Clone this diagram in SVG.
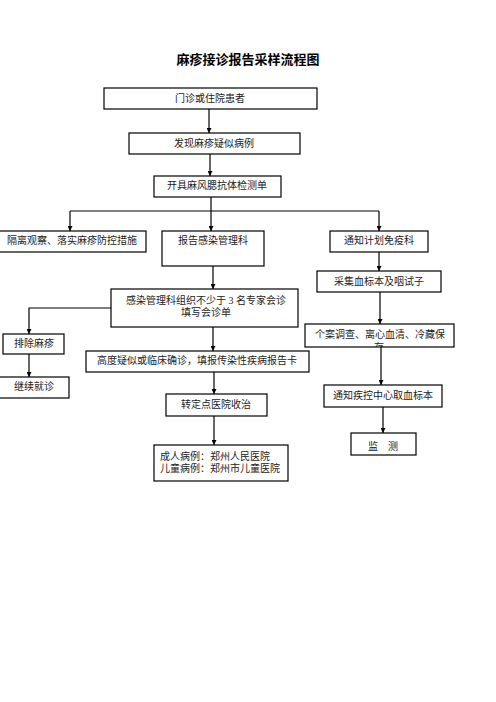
<svg xmlns="http://www.w3.org/2000/svg" width="496" height="702" viewBox="0 0 496 702">
<style>
.b{fill:#fff;stroke:#000;stroke-width:1.2}
.t{font-family:"Liberation Serif","Noto Sans CJK SC",serif;font-size:10px;fill:#222;text-anchor:middle}
.l{text-anchor:start}
.c{fill:none;stroke:#000;stroke-width:1.2}
.ttl{font-family:"Liberation Serif","Noto Sans CJK SC",serif;font-size:13px;font-weight:bold;fill:#000;text-anchor:middle}
</style>
<defs>
<marker id="a" viewBox="0 0 6 6" refX="6" refY="3" markerWidth="5" markerHeight="5" orient="auto" markerUnits="userSpaceOnUse">
<path d="M0,0 L6,3 L0,6 Z" fill="#000"/>
</marker>
<clipPath id="cp"><rect x="305" y="324" width="149" height="23"/></clipPath>
</defs>
<rect width="496" height="702" fill="#fff"/>
<text class="ttl" x="248" y="64">麻疹接诊报告采样流程图</text>
<g id="connectors">
<line class="c" x1="209" y1="109" x2="209" y2="133" marker-end="url(#a)"/>
<line class="c" x1="210" y1="154" x2="210" y2="176" marker-end="url(#a)"/>
<polyline class="c" points="211,197 211,211"/>
<polyline class="c" points="70,211 379,211"/>
<line class="c" x1="70" y1="211" x2="70" y2="231" marker-end="url(#a)"/>
<line class="c" x1="211" y1="211" x2="211" y2="231" marker-end="url(#a)"/>
<line class="c" x1="379" y1="211" x2="379" y2="231" marker-end="url(#a)"/>
<line class="c" x1="379" y1="252" x2="379" y2="271" marker-end="url(#a)"/>
<line class="c" x1="380" y1="292" x2="380" y2="324" marker-end="url(#a)"/>
<line class="c" x1="213" y1="266" x2="213" y2="289" marker-end="url(#a)"/>
<polyline class="c" points="111,308 29,308 29,334" marker-end="url(#a)"/>
<line class="c" x1="29" y1="354" x2="29" y2="377" marker-end="url(#a)"/>
<line class="c" x1="213" y1="327" x2="213" y2="351" marker-end="url(#a)"/>
<line class="c" x1="214" y1="372" x2="214" y2="394" marker-end="url(#a)"/>
<line class="c" x1="214" y1="416" x2="214" y2="445" marker-end="url(#a)"/>
<line class="c" x1="381" y1="347" x2="381" y2="385" marker-end="url(#a)"/>
<line class="c" x1="383" y1="407" x2="383" y2="433" marker-end="url(#a)"/>
</g>
<g id="n1"><rect class="b" x="104" y="88" width="213" height="21"/><text class="t" x="210" y="101.5">门诊或住院患者</text></g>
<g id="n2"><rect class="b" x="129" y="133" width="171" height="21"/><text class="t" x="214" y="147">发现麻疹疑似病例</text></g>
<g id="n3"><rect class="b" x="154" y="176" width="127" height="21"/><text class="t" x="217" y="189">开具麻风腮抗体检测单</text></g>
<g id="n4"><rect class="b" x="-2" y="231" width="148" height="21"/><text class="t" x="72" y="244">隔离观察、落实麻疹防控措施</text></g>
<g id="n5"><rect class="b" x="162" y="231" width="102" height="35"/><text class="t" x="213" y="244">报告感染管理科</text></g>
<g id="n6"><rect class="b" x="330" y="231" width="98" height="21"/><text class="t" x="379" y="244">通知计划免疫科</text></g>
<g id="n7"><rect class="b" x="317" y="271" width="124" height="21"/><text class="t" x="379" y="284.5">采集血标本及咽试子</text></g>
<g id="n8"><rect class="b" x="111" y="289" width="187" height="38"/><text class="t" x="206" y="303.5">感染管理科组织不少于 3 名专家会诊</text><text class="t" x="206" y="316">填写会诊单</text></g>
<g id="n9"><rect x="305" y="324" width="149" height="23" fill="#fff"/><g clip-path="url(#cp)"><text class="t l" x="315" y="338" textLength="130" lengthAdjust="spacingAndGlyphs">个案调查、离心血清、冷藏保</text><text class="t l" x="374" y="350.5">存</text></g><rect x="305" y="324" width="149" height="23" fill="none" stroke="#000" stroke-width="1.2"/></g>
<g id="n10"><rect class="b" x="3" y="334" width="61" height="20"/><text class="t" x="34" y="347">排除麻疹</text></g>
<g id="n11"><rect class="b" x="86" y="351" width="223" height="21"/><text class="t" x="197" y="364">高度疑似或临床确诊，填报传染性疾病报告卡</text></g>
<g id="n12"><rect class="b" x="-2" y="377" width="71" height="21"/><text class="t" x="34" y="390">继续就诊</text></g>
<g id="n13"><rect class="b" x="166" y="394" width="101" height="22"/><text class="t" x="216" y="408">转定点医院收治</text></g>
<g id="n14"><rect class="b" x="324" y="385" width="118" height="22"/><text class="t" x="383" y="399">通知疾控中心取血标本</text></g>
<g id="n15"><rect class="b" x="351" y="433" width="65" height="22"/><text class="t" x="383" y="450">监　测</text></g>
<g id="n16"><rect class="b" x="154" y="445" width="134" height="36"/><text class="t l" x="160" y="459.5">成人病例：郑州人民医院</text><text class="t l" x="160" y="472">儿童病例：郑州市儿童医院</text></g>
</svg>
